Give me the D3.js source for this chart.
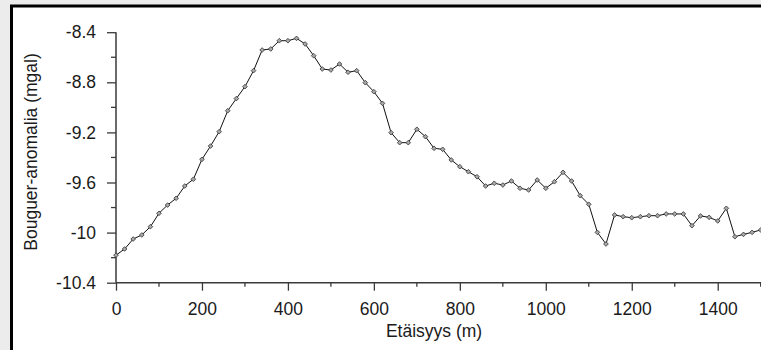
<!DOCTYPE html>
<html>
<head>
<meta charset="utf-8">
<script src="https://cdn.jsdelivr.net/npm/d3@7"></script>
<style>
  html, body { margin: 0; padding: 0; background: #ececec; }
  svg { display: block; }
  text { font-family: "Liberation Sans", Arial, sans-serif; }
</style>
</head>
<body>
<svg id="chart" width="761" height="350"></svg>
<script>
const distances = [0,20,40,60,80,100,120,140,160,180,200,220,240,260,280,300,320,340,360,380,400,420,440,460,480,500,520,540,560,580,600,620,640,660,680,700,720,740,760,780,800,820,840,860,880,900,920,940,960,980,1000,1020,1040,1060,1080,1100,1120,1140,1160,1180,1200,1220,1240,1260,1280,1300,1320,1340,1360,1380,1400,1420,1440,1460,1480,1500];
const anomaly = [-10.18,-10.131,-10.051,-10.019,-9.953,-9.846,-9.78,-9.726,-9.628,-9.574,-9.415,-9.309,-9.194,-9.027,-8.93,-8.835,-8.707,-8.542,-8.534,-8.468,-8.468,-8.449,-8.494,-8.588,-8.694,-8.702,-8.654,-8.72,-8.707,-8.803,-8.875,-8.968,-9.202,-9.282,-9.282,-9.175,-9.234,-9.327,-9.335,-9.42,-9.474,-9.514,-9.554,-9.628,-9.606,-9.62,-9.588,-9.646,-9.66,-9.58,-9.646,-9.594,-9.519,-9.588,-9.705,-9.774,-9.998,-10.091,-9.859,-9.873,-9.881,-9.873,-9.865,-9.865,-9.851,-9.851,-9.851,-9.945,-9.867,-9.878,-9.907,-9.806,-10.033,-10.014,-9.998,-9.979];
const xMajorTicks = [0,200,400,600,800,1000,1200,1400];
const xMinorTicks = [100,300,500,700,900,1100,1300,1500];
const yMajorTicks = [-8.4,-8.8,-9.2,-9.6,-10,-10.4];
const yMinorTicks = [-8.6,-9.0,-9.4,-9.8,-10.2];
const yTickLabels = ["-8.4","-8.8","-9.2","-9.6","-10","-10.4"];
const xTitle = "Etäisyys (m)";
const yTitle = "Bouguer-anomalia (mgal)";

const svg = d3.select("#chart");
const W = 761, H = 350;

// frame
svg.append("rect").attr("x", 11.5).attr("y", 6).attr("width", W + 20).attr("height", H + 20)
  .attr("fill", "#ffffff").attr("stroke", "#000").attr("stroke-width", 3);

const x = d3.scaleLinear().domain([0, 1500]).range([116, 760.7]);
const y = d3.scaleLinear().domain([-10.4, -8.4]).range([282.7, 32.2]);
const axisColor = "#3a3a3a";

// x axis
const gx = svg.append("g").attr("transform", `translate(0,${y(-10.4)})`);
gx.call(d3.axisBottom(x).tickValues(xMajorTicks).tickSize(8).tickSizeOuter(0).tickFormat(d3.format("d")));
gx.select(".domain").remove();
gx.append("line").attr("x1", x(0)).attr("x2", W).attr("y1", 0).attr("y2", 0)
  .attr("stroke", axisColor).attr("stroke-width", 1.5);
gx.selectAll(".tick line").attr("stroke", axisColor).attr("stroke-width", 1.3);
gx.selectAll(".tick text").attr("font-size", 17.5).attr("fill", "#1a1a1a").attr("dy", "1.22em")
  .attr("font-family", "'Liberation Sans', Arial, sans-serif");
gx.selectAll(".minor").data(xMinorTicks).enter().append("line")
  .attr("x1", d => x(d)).attr("x2", d => x(d)).attr("y1", 0).attr("y2", 4)
  .attr("stroke", axisColor).attr("stroke-width", 1.3);

// y axis
const gy = svg.append("g").attr("transform", `translate(${x(0)},0)`);
gy.call(d3.axisLeft(y).tickValues(yMajorTicks).tickSize(9).tickSizeOuter(0)
  .tickFormat((d, i) => yTickLabels[i]));
gy.select(".domain").remove();
gy.append("line").attr("x1", 0).attr("x2", 0).attr("y1", y(-8.4)).attr("y2", y(-10.4))
  .attr("stroke", axisColor).attr("stroke-width", 1.5);
gy.selectAll(".tick line").attr("stroke", axisColor).attr("stroke-width", 1.3);
gy.selectAll(".tick text").attr("font-size", 17.5).attr("fill", "#1a1a1a").attr("x", -20)
  .attr("font-family", "'Liberation Sans', Arial, sans-serif");
gy.selectAll(".minor").data(yMinorTicks).enter().append("line")
  .attr("x1", -5).attr("x2", 0).attr("y1", d => y(d)).attr("y2", d => y(d))
  .attr("stroke", axisColor).attr("stroke-width", 1.3);

// titles
svg.append("text").attr("x", 434).attr("y", 337).attr("text-anchor", "middle")
  .attr("font-size", 17.5).attr("fill", "#1a1a1a").text(xTitle);
svg.append("text").attr("transform", "translate(37,152) rotate(-90)").attr("text-anchor", "middle")
  .attr("font-size", 17.5).attr("fill", "#1a1a1a").text(yTitle);

// data
const data = distances.map((d, i) => ({ d, v: anomaly[i] }));
const line = d3.line().x(p => x(p.d)).y(p => y(p.v));
svg.append("path").datum(data).attr("d", line).attr("fill", "none")
  .attr("stroke", "#111").attr("stroke-width", 1);

const sym = d3.symbol().type(d3.symbolDiamond2).size(14);
svg.selectAll(".pt").data(data).enter().append("path")
  .attr("transform", p => `translate(${x(p.d)},${y(p.v)})`)
  .attr("d", sym).attr("fill", "#a8a8a8").attr("stroke", "#333").attr("stroke-width", 0.8);
</script>
</body>
</html>
